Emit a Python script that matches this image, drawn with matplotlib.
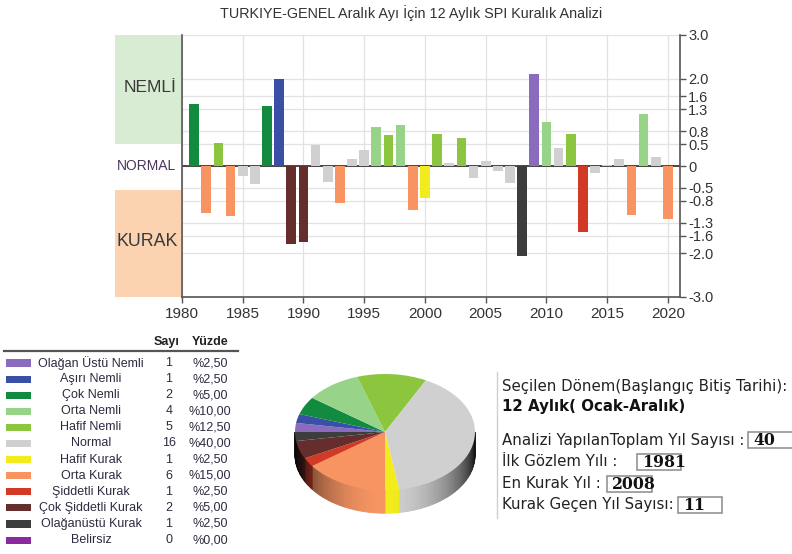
import matplotlib
matplotlib.use('Agg')
import matplotlib.pyplot as plt
import numpy as np
from matplotlib.patches import Rectangle, Polygon
import matplotlib.colors as mcolors

# ---------------- data ----------------
years = list(range(1981, 2021))
spi = [1.43, -1.08, 0.52, -1.15, -0.23, -0.42, 1.37, 1.99, -1.79, -1.73,
       0.47, -0.36, -0.85, 0.15, 0.36, 0.89, 0.70, 0.95, -1.00, -0.73,
       0.73, 0.06, 0.65, -0.27, 0.12, -0.11, -0.38, -2.06, 2.11, 1.00,
       0.42, 0.73, -1.52, -0.15, 0.03, 0.15, -1.12, 1.19, 0.21, -1.21]

classes = ["Olağan Üstü Nemli", "Aşırı Nemli", "Çok Nemli", "Orta Nemli",
           "Hafif Nemli", "Normal", "Hafif Kurak", "Orta Kurak",
           "Şiddetli Kurak", "Çok Şiddetli Kurak", "Olağanüstü Kurak", "Belirsiz"]
counts = [1, 1, 2, 4, 5, 16, 1, 6, 1, 2, 1, 0]
class_colors = ["#8a6bbd", "#3a4fa6", "#128a3f", "#98d38a", "#8cc63f", "#d0d0d0",
                "#f2ec1c", "#f79462", "#d23a26", "#662d2d", "#3d3d3d", "#8b2a9c"]
# class index of each year (into `classes`)
year_class = [2, 7, 4, 7, 5, 5, 2, 1, 9, 9,
              5, 5, 7, 5, 5, 3, 4, 3, 7, 6,
              4, 5, 4, 5, 5, 5, 5, 10, 0, 3,
              5, 4, 8, 5, 5, 5, 7, 3, 5, 7]

ytick_vals = [3.0, 2.0, 1.6, 1.3, 0.8, 0.5, 0, -0.5, -0.8, -1.3, -1.6, -2.0, -3.0]
ytick_labels = ["3.0", "2.0", "1.6", "1.3", "0.8", "0.5", "0", "-0.5", "-0.8",
                "-1.3", "-1.6", "-2.0", "-3.0"]
xtick_vals = [1980, 1985, 1990, 1995, 2000, 2005, 2010, 2015, 2020]

title = "TURKIYE-GENEL Aralık Ayı İçin 12 Aylık SPI Kuralık Analizi"
period_label = "Seçilen Dönem(Başlangıç Bitiş Tarihi):"
period_value = "12 Aylık( Ocak-Aralık)"
info_labels = ["Analizi YapılanToplam Yıl Sayısı :", "İlk Gözlem Yılı :",
               "En Kurak Yıl :", "Kurak Geçen Yıl Sayısı:"]
info_values = ["40", "1981", "2008", "11"]

# ---------------- figure ----------------
W, H = 792, 554
fig = plt.figure(figsize=(W / 100, H / 100), dpi=100)
fig.patch.set_facecolor('white')
SANS = ['Liberation Sans', 'DejaVu Sans']
TXT = '#333333'


def fr(x0, y0, x1, y1):
    """pixel box (top-left origin) -> figure fraction rect"""
    return [x0 / W, 1 - y1 / H, (x1 - x0) / W, (y1 - y0) / H]


# main bar axes
ax = fig.add_axes(fr(182, 35, 680, 297))
bar_colors = [class_colors[c] for c in year_class]
ax.set_axisbelow(True)
ax.bar(years, spi, width=0.8, color=bar_colors, zorder=3)
ax.axhline(0, color='#3a3a3a', lw=1.3, zorder=2)
ax.set_xlim(1980, 2021)
ax.set_ylim(-3, 3)
ax.set_yticks(ytick_vals)
ax.set_yticklabels(ytick_labels)
ax.yaxis.tick_right()
ax.set_xticks(xtick_vals)
ax.grid(True, color='#e2e2e2', lw=0.9, zorder=0)
for s in ['left', 'right', 'bottom']:
    ax.spines[s].set_color('#555555')
    ax.spines[s].set_linewidth(1.2)
ax.spines['top'].set_visible(False)
ax.tick_params(axis='both', colors='#555555', length=4, width=1,
               labelcolor=TXT, labelsize=10.5, pad=2)
ax.tick_params(axis='x', labelsize=11, pad=3)
for t in ax.get_xticklabels() + ax.get_yticklabels():
    t.set_family(SANS)

# left category band axes
axl = fig.add_axes(fr(115, 35, 181, 297))
axl.set_xlim(0, 1)
axl.set_ylim(-3, 3)
axl.axis('off')
axl.add_patch(Rectangle((0, 0.5), 1, 2.5, color='#d8ecd3', lw=0))
axl.add_patch(Rectangle((0, -3.0), 1, 2.45, color='#fbd3b0', lw=0))
axl.text(0.53, 1.79, "NEMLİ", ha='center', va='center', fontsize=12.5,
         family=SANS, color='#3a3a3a')
axl.text(0.47, 0.0, "NORMAL", ha='center', va='center', fontsize=10,
         family=SANS, color='#4a3560')
axl.text(0.49, -1.74, "KURAK", ha='center', va='center', fontsize=12.8,
         family=SANS, color='#3a3a3a')

# overlay axes in pixel coordinates for texts
ov = fig.add_axes([0, 0, 1, 1], zorder=-1)
ov.set_xlim(0, W)
ov.set_ylim(H, 0)
ov.axis('off')

ov.text(411, 13, title, ha='center', va='center', fontsize=10.4, family=SANS,
        color=TXT)

# legend table
ov.text(167, 342, "Sayı", ha='center', va='center', fontsize=9,
        fontweight='bold', family=SANS, color='#222222')
ov.text(210, 342, "Yüzde", ha='center', va='center', fontsize=9,
        fontweight='bold', family=SANS, color='#222222')
ov.plot([4, 238], [351, 351], color='#555555', lw=1.6)
total = sum(counts)
row_y0, row_dy = 363, 16.1
for i, (name, cnt, col) in enumerate(zip(classes, counts, class_colors)):
    y = row_y0 + i * row_dy
    ov.add_patch(Rectangle((6, y - 3.6), 25, 7.2, color=col, lw=0))
    ov.text(91, y, name, ha='center', va='center', fontsize=9, family=SANS,
            color='#2e2a40')
    ov.text(169, y, str(cnt), ha='center', va='center', fontsize=9,
            family=SANS, color='#2e2a40')
    pct = "%" + f"{cnt / total * 100:.2f}".replace('.', ',')
    ov.text(210, y, pct, ha='center', va='center', fontsize=9, family=SANS,
            color='#2e2a40')

# right info panel
ov.plot([496.5, 496.5], [372, 518], color='#cfcfcf', lw=1)
VERD = ['DejaVu Sans']
FS = 10.8
ov.text(502, 386, period_label, ha='left', va='center', fontsize=FS,
        family=VERD, color='#222222')
ov.text(502, 407, period_value, ha='left', va='center', fontsize=FS,
        family=VERD, fontweight='bold', color='#111111')
info_y = [440, 462, 484, 505]
box_x = [(748, 800), (637, 681), (607, 652), (678, 722)]
for lab, val, y, (bx0, bx1) in zip(info_labels, info_values, info_y, box_x):
    ov.text(502, y, lab, ha='left', va='center', fontsize=FS, family=VERD,
            color='#222222')
    rect = Rectangle((bx0, y - 8), bx1 - bx0, 16, facecolor='white',
                     edgecolor='#8a8a8a', lw=1.1)
    ov.add_patch(rect)
    t = ov.text(bx0 + 5, y + 0.5, val, ha='left', va='center', fontsize=11.3,
                family=['DejaVu Serif'], fontweight='bold', color='#111111')
    t.set_clip_path(rect)

# ---------------- 3D pie ----------------
a_px, b_px, thick = 90, 58, 0.40
cx, cy = 385, 432
pax = fig.add_axes(fr(cx - 1.05 * a_px, cy - 1.05 * b_px,
                      cx + 1.05 * a_px, cy + (1.05 + thick) * b_px))
wedges, _ = pax.pie(counts, colors=class_colors, startangle=180,
                    counterclock=False, radius=1,
                    wedgeprops=dict(linewidth=0))
pax.set_aspect('auto')
pax.set_xlim(-1.05, 1.05)
pax.set_ylim(-1.05 - thick, 1.05)
pax.axis('off')
for w in wedges:
    w.set_zorder(5)
    t1, t2 = w.theta1, w.theta2
    lo, hi = max(t1, -180), min(t2, 0)
    if hi <= lo:
        continue
    base = np.array(mcolors.to_rgb(w.get_facecolor()))
    n = max(2, int((hi - lo) / 1.5) + 1)
    angs = np.linspace(lo, hi, n)
    for a0, a1 in zip(angs[:-1], angs[1:]):
        am = np.radians((a0 + a1) / 2)
        s = max(0.0, -np.sin(am))
        f = 0.08 + 0.92 * s ** 1.3
        col = np.clip(base * f, 0, 1)
        r0, r1 = np.radians(a0), np.radians(a1)
        pts = [(np.cos(r0), np.sin(r0)), (np.cos(r1), np.sin(r1)),
               (np.cos(r1), np.sin(r1) - thick), (np.cos(r0), np.sin(r0) - thick)]
        pax.add_patch(Polygon(pts, closed=True, facecolor=col, edgecolor=col,
                              lw=0.6, zorder=2))

fig.savefig('out.png', dpi=100, facecolor='white')
